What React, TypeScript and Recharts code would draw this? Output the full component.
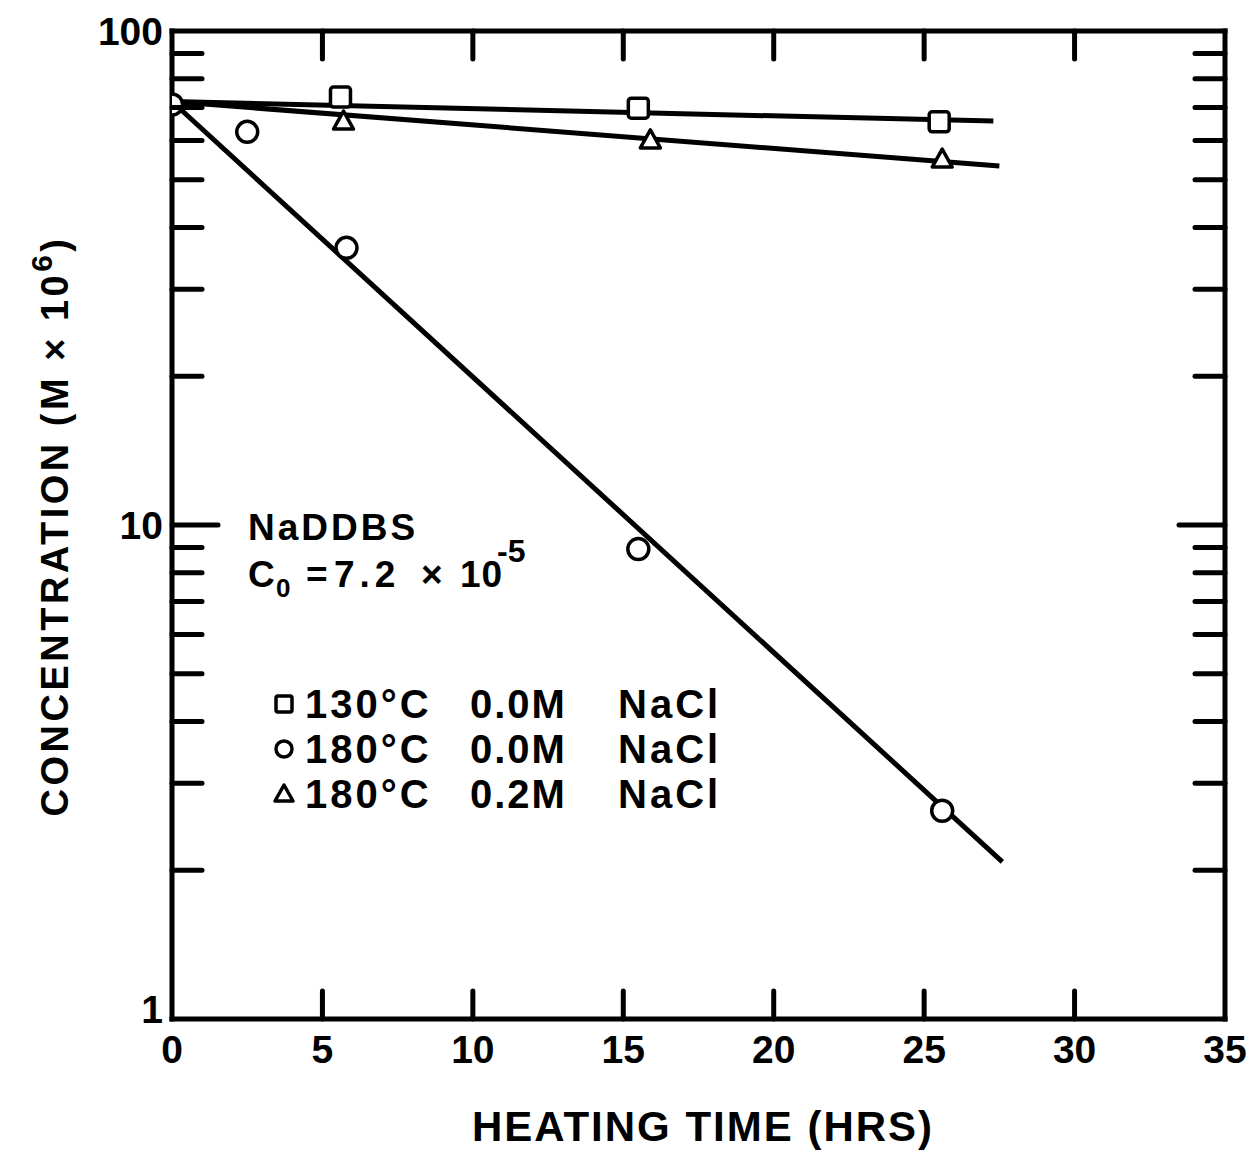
import React from 'react';
import { ComposedChart, XAxis, YAxis, Line, Scatter } from 'recharts';

// ---- data ----
const xTicks = [0, 5, 10, 15, 20, 25, 30, 35];
const yTicks = [1, 2, 3, 4, 5, 6, 7, 8, 9, 10, 20, 30, 40, 50, 60, 70, 80, 90, 100];
const yLabelTicks = [1, 10, 100];

const square130 = [
  { x: 5.6, y: 73.5 },
  { x: 15.5, y: 69.8 },
  { x: 25.5, y: 65.5 },
];
const circle180 = [
  { x: 0, y: 71 },
  { x: 2.5, y: 62.5 },
  { x: 5.8, y: 36.4 },
  { x: 15.5, y: 8.94 },
  { x: 25.6, y: 2.64 },
];
const triangle180salt = [
  { x: 5.7, y: 65.4 },
  { x: 15.9, y: 59.9 },
  { x: 25.6, y: 54.8 },
];
const squareFit = [
  { x: 0, y: 72 },
  { x: 27.3, y: 65.7 },
];
const triangleFit = [
  { x: 0, y: 72 },
  { x: 27.5, y: 53.3 },
];
const circleFit = [
  { x: 0, y: 72 },
  { x: 27.6, y: 2.08 },
];

const legendRows = [
  { symbol: 'square', temp: '130°C', salt: '0.0M', name: 'NaCl' },
  { symbol: 'circle', temp: '180°C', salt: '0.0M', name: 'NaCl' },
  { symbol: 'triangle', temp: '180°C', salt: '0.2M', name: 'NaCl' },
];

const FONT = "'Liberation Sans', Arial, sans-serif";
const INK = '#000';

// ---- tick renderers (inward ticks) ----
const LeftTick = (props: any) => {
  const { x, y, payload } = props;
  const v = payload.value;
  const len = v === 1 || v === 100 ? 0 : v === 10 ? 46 : 30;
  return (
    <g>
      {len > 0 && (
        <line x1={x} y1={y} x2={x + len} y2={y} stroke={INK} strokeWidth={5} strokeLinecap="round" />
      )}
      {yLabelTicks.includes(v) && (
        <text x={x - 9} y={v === 1 ? y + 4 : y + 14} textAnchor="end" fontFamily={FONT} fontWeight="bold" fontSize={39} fill={INK}>
          {v}
        </text>
      )}
    </g>
  );
};

const RightTick = (props: any) => {
  const { x, y, payload } = props;
  const v = payload.value;
  const len = v === 1 || v === 100 ? 0 : v === 10 ? 46 : 30;
  return (
    <g>
      {len > 0 && (
        <line x1={x} y1={y} x2={x - len} y2={y} stroke={INK} strokeWidth={5} strokeLinecap="round" />
      )}
    </g>
  );
};

const BottomTick = (props: any) => {
  const { x, y, payload } = props;
  const v = payload.value;
  const len = v === 0 || v === 35 ? 0 : 28;
  return (
    <g>
      {len > 0 && <line x1={x} y1={y} x2={x} y2={y - len} stroke={INK} strokeWidth={5} strokeLinecap="round" />}
      <text x={x} y={y + 44} textAnchor="middle" fontFamily={FONT} fontWeight="bold" fontSize={39} fill={INK}>
        {v}
      </text>
    </g>
  );
};

const TopTick = (props: any) => {
  const { x, y, payload } = props;
  const v = payload.value;
  const len = v === 0 || v === 35 ? 0 : 28;
  return (
    <g>
      {len > 0 && <line x1={x} y1={y} x2={x} y2={y + len} stroke={INK} strokeWidth={5} strokeLinecap="round" />}
    </g>
  );
};

// ---- marker shapes ----
const SquareShape = (p: any) => (
  <rect x={p.cx - 10} y={p.cy - 10} width={20} height={20} rx={3} fill="#fff" stroke={INK} strokeWidth={3.5} />
);
const CircleShape = (p: any) => <circle cx={p.cx} cy={p.cy} r={10.5} fill="#fff" stroke={INK} strokeWidth={3.5} />;
const TriangleShape = (p: any) => (
  <path
    d={`M${p.cx},${p.cy - 11} L${p.cx + 10},${p.cy + 7} L${p.cx - 10},${p.cy + 7} Z`}
    fill="#fff"
    stroke={INK}
    strokeWidth={3.5}
    strokeLinejoin="round"
  />
);

const axisLineStyle = { stroke: INK, strokeWidth: 5, strokeLinecap: 'square' as const };

const LegendSymbol = ({ kind, cx, cy }: { kind: string; cx: number; cy: number }) => {
  if (kind === 'square')
    return <rect x={cx - 8} y={cy - 8} width={16} height={16} rx={2} fill="#fff" stroke={INK} strokeWidth={3.5} />;
  if (kind === 'circle') return <circle cx={cx} cy={cy} r={8} fill="#fff" stroke={INK} strokeWidth={3.5} />;
  return (
    <path
      d={`M${cx},${cy - 9} L${cx + 9},${cy + 7} L${cx - 9},${cy + 7} Z`}
      fill="#fff"
      stroke={INK}
      strokeWidth={3.5}
      strokeLinejoin="round"
    />
  );
};

export default function App() {
  return (
    <div style={{ position: 'absolute', left: 0, top: 0, width: 1248, height: 1151, background: '#fff' }}>
      <ComposedChart width={1248} height={1151} margin={{ top: 11, right: 3, bottom: 32, left: 72 }}>
        <XAxis
          type="number"
          dataKey="x"
          domain={[0, 35]}
          ticks={xTicks}
          interval={0}
          allowDataOverflow
          height={100}
          tickSize={0}
          tickMargin={0}
          tickLine={false}
          axisLine={axisLineStyle}
          tick={<BottomTick />}
        />
        <XAxis
          xAxisId="top"
          orientation="top"
          type="number"
          dataKey="x"
          domain={[0, 35]}
          ticks={xTicks}
          interval={0}
          allowDataOverflow
          height={20}
          tickSize={0}
          tickMargin={0}
          tickLine={false}
          axisLine={axisLineStyle}
          tick={<TopTick />}
        />
        <YAxis
          type="number"
          dataKey="y"
          scale="log"
          domain={[1, 100]}
          ticks={yTicks}
          interval={0}
          allowDataOverflow
          width={100}
          tickSize={0}
          tickMargin={0}
          tickLine={false}
          axisLine={axisLineStyle}
          tick={<LeftTick />}
        />
        <YAxis
          yAxisId="right"
          orientation="right"
          type="number"
          dataKey="y"
          scale="log"
          domain={[1, 100]}
          ticks={yTicks}
          interval={0}
          allowDataOverflow
          width={20}
          tickSize={0}
          tickMargin={0}
          tickLine={false}
          axisLine={axisLineStyle}
          tick={<RightTick />}
        />
        <Line data={squareFit} dataKey="y" type="linear" stroke={INK} strokeWidth={5} dot={false} isAnimationActive={false} />
        <Line data={triangleFit} dataKey="y" type="linear" stroke={INK} strokeWidth={5} dot={false} isAnimationActive={false} />
        <Line data={circleFit} dataKey="y" type="linear" stroke={INK} strokeWidth={5} dot={false} isAnimationActive={false} />
        <Scatter data={square130} dataKey="y" shape={<SquareShape />} isAnimationActive={false} />
        <Scatter data={triangle180salt} dataKey="y" shape={<TriangleShape />} isAnimationActive={false} />
        <Scatter data={circle180} dataKey="y" shape={<CircleShape />} isAnimationActive={false} />
      </ComposedChart>
      <svg
        width={1248}
        height={1151}
        style={{ position: 'absolute', left: 0, top: 0, pointerEvents: 'none' }}
        fontFamily={FONT}
        fontWeight="bold"
        fill={INK}
      >
        <text x={703} y={1141} textAnchor="middle" fontSize={42} letterSpacing={2}>
          HEATING TIME (HRS)
        </text>
        <text
          transform="translate(68,526) rotate(-90)"
          textAnchor="middle"
          fontSize={38}
          letterSpacing={3.5}
        >
          CONCENTRATION (M × 10<tspan dy={-16} fontSize={30}>6</tspan>
          <tspan dy={16}>)</tspan>
        </text>
        <text x={248} y={540} fontSize={37} letterSpacing={3}>NaDDBS</text>
        <text x={248} y={587} fontSize={37}>C</text>
        <text x={276} y={597} fontSize={26}>0</text>
        <text x={306} y={587} fontSize={37}>=</text>
        <text x={334} y={587} fontSize={37} letterSpacing={5}>7.2</text>
        <text x={421} y={587} fontSize={37}>×</text>
        <text x={460} y={587} fontSize={37} letterSpacing={1}>10</text>
        <text x={497} y={562} fontSize={32}>-5</text>
        {legendRows.map((r, i) => {
          const base = 718 + i * 45;
          return (
            <g key={i}>
              <LegendSymbol kind={r.symbol} cx={284} cy={base - 14} />
              <text x={305} y={base} fontSize={40} letterSpacing={3}>{r.temp}</text>
              <text x={470} y={base} fontSize={40} letterSpacing={2}>{r.salt}</text>
              <text x={618} y={base} fontSize={40} letterSpacing={3}>{r.name}</text>
            </g>
          );
        })}
      </svg>
    </div>
  );
}
